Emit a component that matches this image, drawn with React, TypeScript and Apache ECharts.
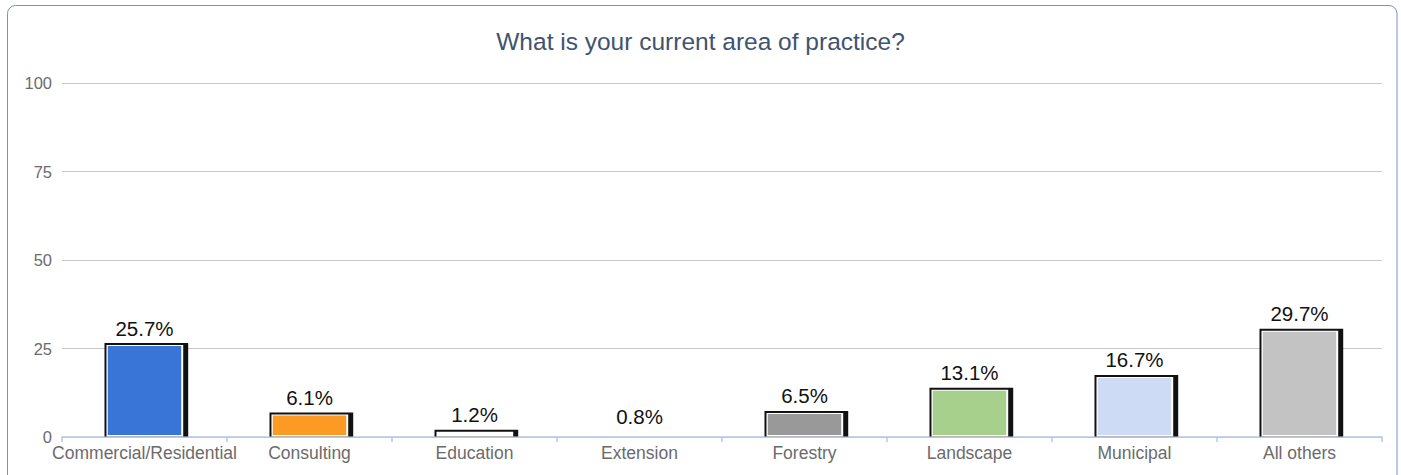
import React, { useEffect, useRef } from "react";
import * as echarts from "echarts";

const categories = [
  "Commercial/Residential",
  "Consulting",
  "Education",
  "Extension",
  "Forestry",
  "Landscape",
  "Municipal",
  "All others",
];
const values = [25.7, 6.1, 1.2, 0.8, 6.5, 13.1, 16.7, 29.7];
const barColors = [
  "#3875d7",
  "#fd9a24",
  "#ffffff",
  "#ffffff",
  "#999999",
  "#a8d08d",
  "#cddcf4",
  "#c3c3c3",
];
const yTicks = { min: 0, max: 100, interval: 25 };
const title = "What is your current area of practice?";

const FONT = '"Liberation Sans", Arial, sans-serif';

export default function App() {
  const ref = useRef<HTMLDivElement>(null);

  useEffect(() => {
    if (!ref.current) return;
    const chart = echarts.init(ref.current, null, { renderer: "svg" });
    chart.setOption({
      animation: false,
      textStyle: { fontFamily: FONT },
      title: {
        text: title,
        left: "center",
        top: 24,
        textStyle: {
          color: "#3e5470",
          fontSize: 24.5,
          fontWeight: "normal",
          fontFamily: FONT,
        },
      },
      graphic: [
        {
          type: "rect",
          silent: true,
          shape: { x: 7.5, y: 5.5, width: 1389.5, height: 485, r: 8 },
          style: { fill: "none", stroke: "#7393c9", lineWidth: 1 },
          z: -1,
        },
      ],
      grid: { left: 62, right: 19, top: 83, bottom: 38, containLabel: false },
      xAxis: {
        type: "category",
        data: categories,
        boundaryGap: true,
        axisLine: { show: true, lineStyle: { color: "#b4c7e7", width: 1.5 } },
        axisTick: { show: true, length: 5, lineStyle: { color: "#b4c7e7", width: 1.5 } },
        axisLabel: {
          color: "#6b6b6b",
          fontSize: 17.5,
          margin: 7,
          interval: 0,
          fontFamily: FONT,
        },
        splitLine: { show: false },
      },
      yAxis: {
        type: "value",
        min: yTicks.min,
        max: yTicks.max,
        interval: yTicks.interval,
        axisLine: { show: false },
        axisTick: { show: false },
        axisLabel: {
          color: "#6b6b6b",
          fontSize: 16.5,
          margin: 10,
          padding: [6, 0, 0, 0],
          fontFamily: FONT,
        },
        splitLine: { show: true, lineStyle: { color: "#c8c8c8", width: 1 } },
      },
      series: [
        {
          type: "custom",
          data: values.map((v, i) => [i, v]),
          encode: { x: 0, y: 1 },
          z: 3,
          renderItem: (params: any, api: any) => {
            const i = api.value(0);
            const v = api.value(1);
            const top = api.coord([i, v]);
            const base = api.coord([i, 0]);
            const s = api.size([1, 0])[0];
            const cx = top[0];
            const fw = s * 0.445;
            const fl = cx - fw / 2;
            const yv = top[1];
            const yb = base[1];
            const children: any[] = [];
            if (yb - yv >= 3.5) {
              children.push({
                type: "rect",
                shape: { x: fl - 3.3, y: yv - 3, width: fw + 10.3, height: yb - yv + 2.5 },
                style: { fill: "#111111" },
              });
              children.push({
                type: "rect",
                shape: { x: fl - 1.3, y: yv - 1, width: fw + 3.3, height: yb - yv + 0.5 },
                style: { fill: "#ffffff" },
              });
              children.push({
                type: "rect",
                shape: { x: fl, y: yv, width: fw, height: Math.max(0, yb - yv - 2) },
                style: { fill: barColors[i] },
              });
            }
            children.push({
              type: "text",
              x: cx,
              y: yv - 18,
              style: {
                text: v.toFixed(1) + "%",
                fill: "#111111",
                font: `20.5px ${FONT}`,
                align: "center",
                verticalAlign: "middle",
              },
            });
            return { type: "group", children };
          },
        },
      ],
    });
    return () => chart.dispose();
  }, []);

  return (
    <div
      ref={ref}
      style={{ position: "absolute", left: 0, top: 0, width: 1401, height: 475 }}
    />
  );
}
